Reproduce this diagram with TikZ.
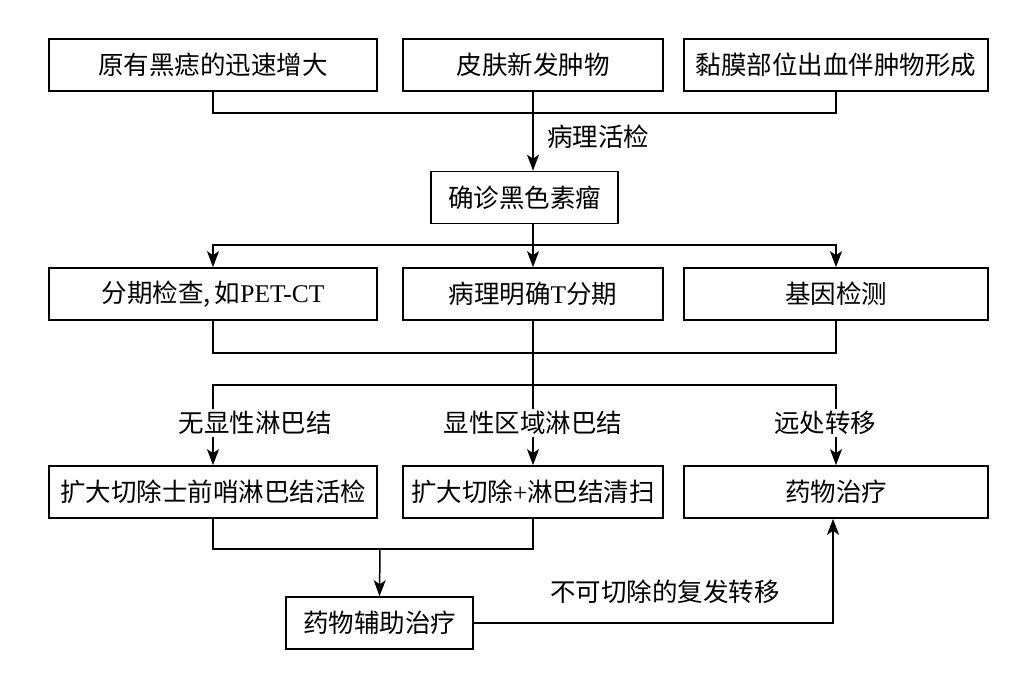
\documentclass[tikz,border=0pt]{standalone}
\usepackage{fontspec}
\setmainfont{Liberation Serif}
\newfontfamily\cjk{Noto Sans CJK SC}
\usetikzlibrary{arrows.meta,calc}
\begin{document}
\begin{tikzpicture}[x=1pt,y=-1pt,
  box/.style={draw,line width=1.7pt,minimum height=52pt,inner sep=0pt,font=\fontsize{25.5}{28}\selectfont\cjk},
  wa/.style={box,minimum width=328pt},
  wb/.style={box,minimum width=260pt},
  wc/.style={box,minimum width=304pt},
  wd/.style={box,minimum width=187pt},
  lab/.style={font=\fontsize{25.5}{28}\selectfont\cjk,inner sep=2pt},
  ln/.style={line width=1.5pt},
  arr/.style={ln,-{Stealth[length=16pt,width=12pt,inset=4pt]}}]
\useasboundingbox (0,0) rectangle (1035,697);
% row 1
\node[wa] (r1a) at (213,65) {原有黑痣的迅速增大};
\node[wb] (r1b) at (533,65) {皮肤新发肿物};
\node[wc] (r1c) at (836,65) {黏膜部位出血伴肿物形成};
\node[wd] (diag) at (524.5,197.5) {确诊黑色素瘤};
% row 2
\node[wa] (r2a) at (213,294) {分期检查,\,如{\rmfamily PET-CT}};
\node[wb] (r2b) at (533,294) {病理明确{\rmfamily T}分期};
\node[wc] (r2c) at (836,294) {基因检测};
% row 3
\node[wa] (r3a) at (213,492) {扩大切除士前哨淋巴结活检};
\node[wb] (r3b) at (533,492) {扩大切除{\rmfamily +}淋巴结清扫};
\node[wc] (r3c) at (836,492) {药物治疗};
\node[wd] (adj) at (379.5,623) {药物辅助治疗};
% coordinates
\coordinate (j1) at (533,113);
\coordinate (j2) at (533,245);
\coordinate (j3) at (533,353);
\coordinate (j4) at (533,385);
\coordinate (j5) at (380,549);
\coordinate (j6) at (833,623);
% connectors row1 -> diag
\draw[ln] (r1a.south) |- (j1) -| (r1c.south);
\draw[arr] (r1b.south) -- (r1b.south |- diag.north);
\node[lab,anchor=west] (l1) at (545,137) {病理活检};
% diag -> row2
\draw[ln] (diag.south -| j2) -- (j2);
\draw[arr] (j2) -| (r2a.north);
\draw[arr] (j2) -| (r2c.north);
\draw[arr] (j2) -- (r2b.north);
% row2 -> row3
\draw[ln] (r2a.south) |- (j3) -| (r2c.south);
\draw[ln] (r2b.south) -- (j4);
\draw[arr] (j4) -| (r3a.north);
\draw[arr] (j4) -| (r3c.north);
\draw[arr] (j4) -- (r3b.north);
\node[lab,fill=white] (l2) at (255,423) {无显性淋巴结};
\node[lab,fill=white] (l3) at (533,423) {显性区域淋巴结};
\node[lab,fill=white] (l4) at (825,423) {远处转移};
% row3 -> adj
\draw[ln] (r3a.south) |- (j5) -| (r3b.south);
\draw[arr] (j5) -- (adj.north);
% adj -> drug
\draw[arr] (adj.east) -- (j6) -- (r3c.south -| j6);
\node[lab] (l5) at (665,592) {不可切除的复发转移};
\end{tikzpicture}
\end{document}
